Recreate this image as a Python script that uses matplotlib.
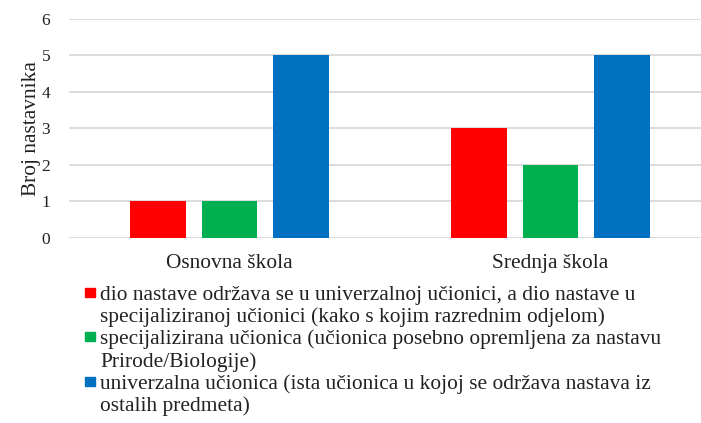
import matplotlib
matplotlib.use("Agg")
import matplotlib.pyplot as plt
from matplotlib.patches import Rectangle
import numpy as np

plt.rcParams['font.family'] = ['Liberation Serif', 'DejaVu Serif']

categories = ["Osnovna škola", "Srednja škola"]
series_labels = [
    ["dio nastave održava se u univerzalnoj učionici, a dio nastave u",
     "specijaliziranoj učionici (kako s kojim razrednim odjelom)"],
    ["specijalizirana učionica (učionica posebno opremljena za nastavu",
     "Prirode/Biologije)"],
    ["univerzalna učionica (ista učionica u kojoj se održava nastava iz",
     "ostalih predmeta)"],
]
values = [
    [1, 3],
    [1, 2],
    [5, 5],
]
colors = ["#FF0000", "#00B050", "#0070C0"]

W, H = 701, 423
fig = plt.figure(figsize=(W / 100, H / 100), dpi=100)
ax = fig.add_axes([69 / W, 1 - 237.7 / H, 642 / W, (237.7 - 19) / H])

x = np.arange(len(categories))
width = 0.174
step = 0.222
for i, (vals, col) in enumerate(zip(values, colors)):
    ax.bar(x + (i - 1) * step, vals, width, color=col, zorder=3)

ax.set_xlim(-0.5, 1.5)
ax.set_ylim(0, 6)
ax.set_yticks(range(0, 7))
ax.yaxis.grid(True, color="#D9D9D9", linewidth=1.3, zorder=0)
ax.set_axisbelow(True)
for s in ax.spines.values():
    s.set_visible(False)
ax.tick_params(axis="both", length=0, colors="#222222")
ax.tick_params(axis="y", pad=13.5, labelsize=12.5)
ax.tick_params(axis="x", pad=12, labelsize=15.4)
ax.set_xticks(x)
ax.set_xticklabels(categories)
ax.set_ylabel("Broj nastavnika", fontsize=15.4, color="#222222")
ax.yaxis.set_label_coords(-0.044, 0.5)

# legend below the chart, one text per line
line_h = 22.2
base0 = 300
k = 0
for lines, col in zip(series_labels, colors):
    yb = base0 + k * line_h
    fig.patches.append(Rectangle((85 / W, 1 - 297 / H - (yb - base0) / H), 10 / W, 9 / H,
                                 transform=fig.transFigure, color=col))
    for ln in lines:
        fig.text(100 / W, 1 - (base0 + k * line_h) / H, ln, fontsize=15.4,
                 color="#222222", va="baseline", ha="left")
        k += 1

fig.savefig("out.png", dpi=100)
